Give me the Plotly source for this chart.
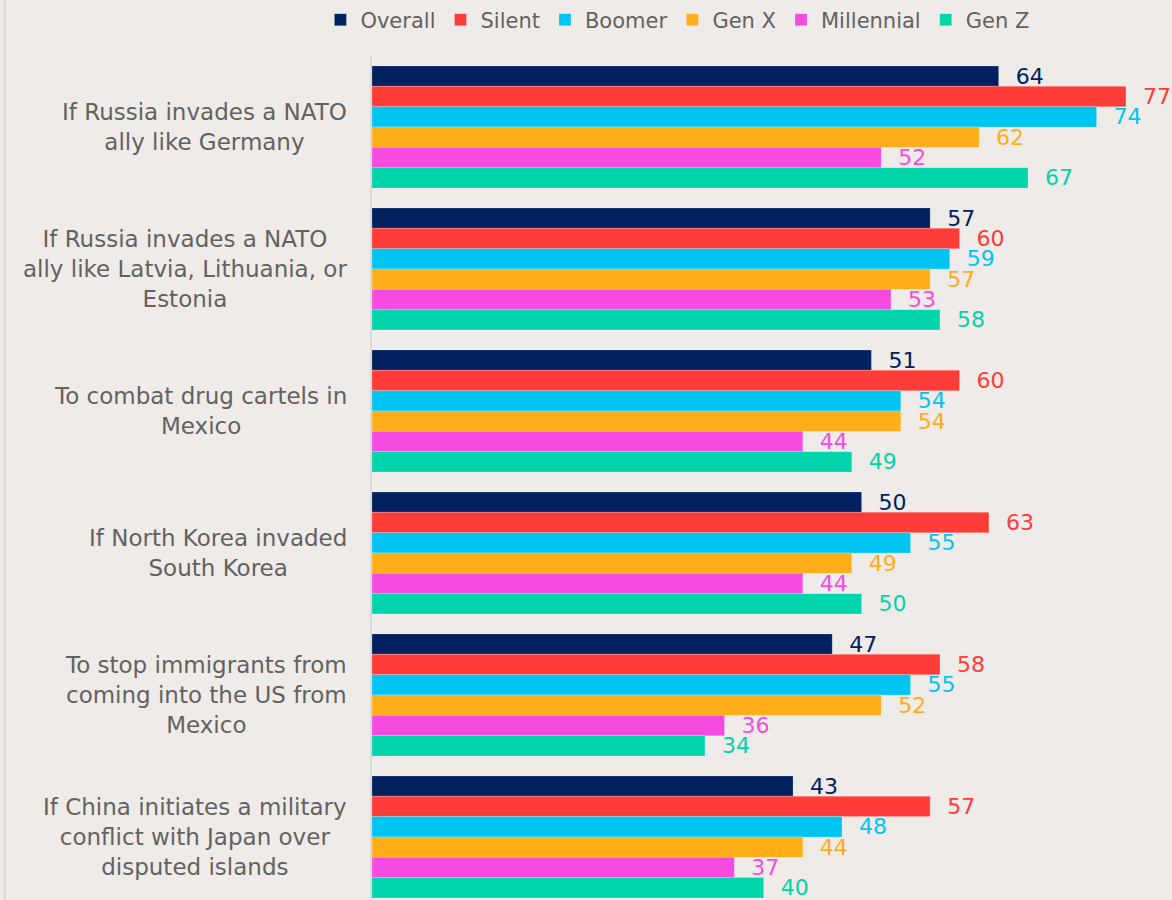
import plotly.graph_objects as go

categories = [
    "If Russia invades a NATO<br>ally like Germany",
    "If Russia invades a NATO<br>ally like Latvia, Lithuania, or<br>Estonia",
    "To combat drug cartels in<br>Mexico",
    "If North Korea invaded<br>South Korea",
    "To stop immigrants from<br>coming into the US from<br>Mexico",
    "If China initiates a military<br>conflict with Japan over<br>disputed islands",
]
cat_ids = ["c0", "c1", "c2", "c3", "c4", "c5"]

series_names = ["Overall", "Silent", "Boomer", "Gen X", "Millennial", "Gen Z"]
overall = [64, 57, 51, 50, 47, 43]
silent = [77, 60, 60, 63, 58, 57]
boomer = [74, 59, 54, 55, 55, 48]
genx = [62, 57, 54, 49, 52, 44]
millennial = [52, 53, 44, 44, 36, 37]
genz = [67, 58, 49, 50, 34, 40]
series_values = [overall, silent, boomer, genx, millennial, genz]
colors = ["#002060", "#FF3C37", "#00C5F3", "#FFAD19", "#F64BE0", "#00D4AA"]

FONT = "DejaVu Sans"
BG = "#EFEBE8"
TXT = "#626262"

fig = go.Figure()
for name, vals, col in zip(series_names, series_values, colors):
    fig.add_trace(go.Bar(
        name=name, y=cat_ids, x=vals, orientation="h",
        marker=dict(color=col, line=dict(color="rgba(255,255,255,0.35)", width=0.6)),
        text=vals, texttemplate="\u00a0\u00a0%{x}", textposition="outside",
        textfont=dict(color=col, size=22, family=FONT),
        constraintext="none", cliponaxis=False, hoverinfo="skip",
    ))

for cid, label in zip(cat_ids, categories):
    fig.add_annotation(
        x=-0.029, xref="paper", y=cid, yref="y", text=label,
        xanchor="right", yanchor="middle", align="center", showarrow=False,
        font=dict(size=23, color=TXT, family=FONT),
    )

# left border line of the chart frame
fig.add_shape(type="line", xref="paper", yref="paper", x0=-0.459, x1=-0.459,
              y0=0, y1=1.08, line=dict(color="#D9D9D9", width=2))

fig.update_layout(
    width=1172, height=900,
    margin=dict(l=372, r=0, t=56, b=0),
    paper_bgcolor=BG, plot_bgcolor=BG,
    barmode="group", bargap=0.1408, bargroupgap=0,
    font=dict(family=FONT, color=TXT),
    showlegend=True,
    legend=dict(
        orientation="h", xref="container", yref="container",
        x=0.578, xanchor="center", y=1 - 20 / 900, yanchor="middle",
        font=dict(size=21, color=TXT, family=FONT),
        itemwidth=30, bgcolor="rgba(0,0,0,0)", traceorder="normal",
    ),
    xaxis=dict(range=[0, 81.7], visible=False, fixedrange=True),
    yaxis=dict(
        type="category", categoryorder="array", categoryarray=cat_ids,
        range=[5.444, -0.5], showticklabels=False, ticks="",
        showline=True, linecolor="#D9D9D9", linewidth=2, showgrid=False,
        zeroline=False,
    ),
)

fig.write_html("out.html")
